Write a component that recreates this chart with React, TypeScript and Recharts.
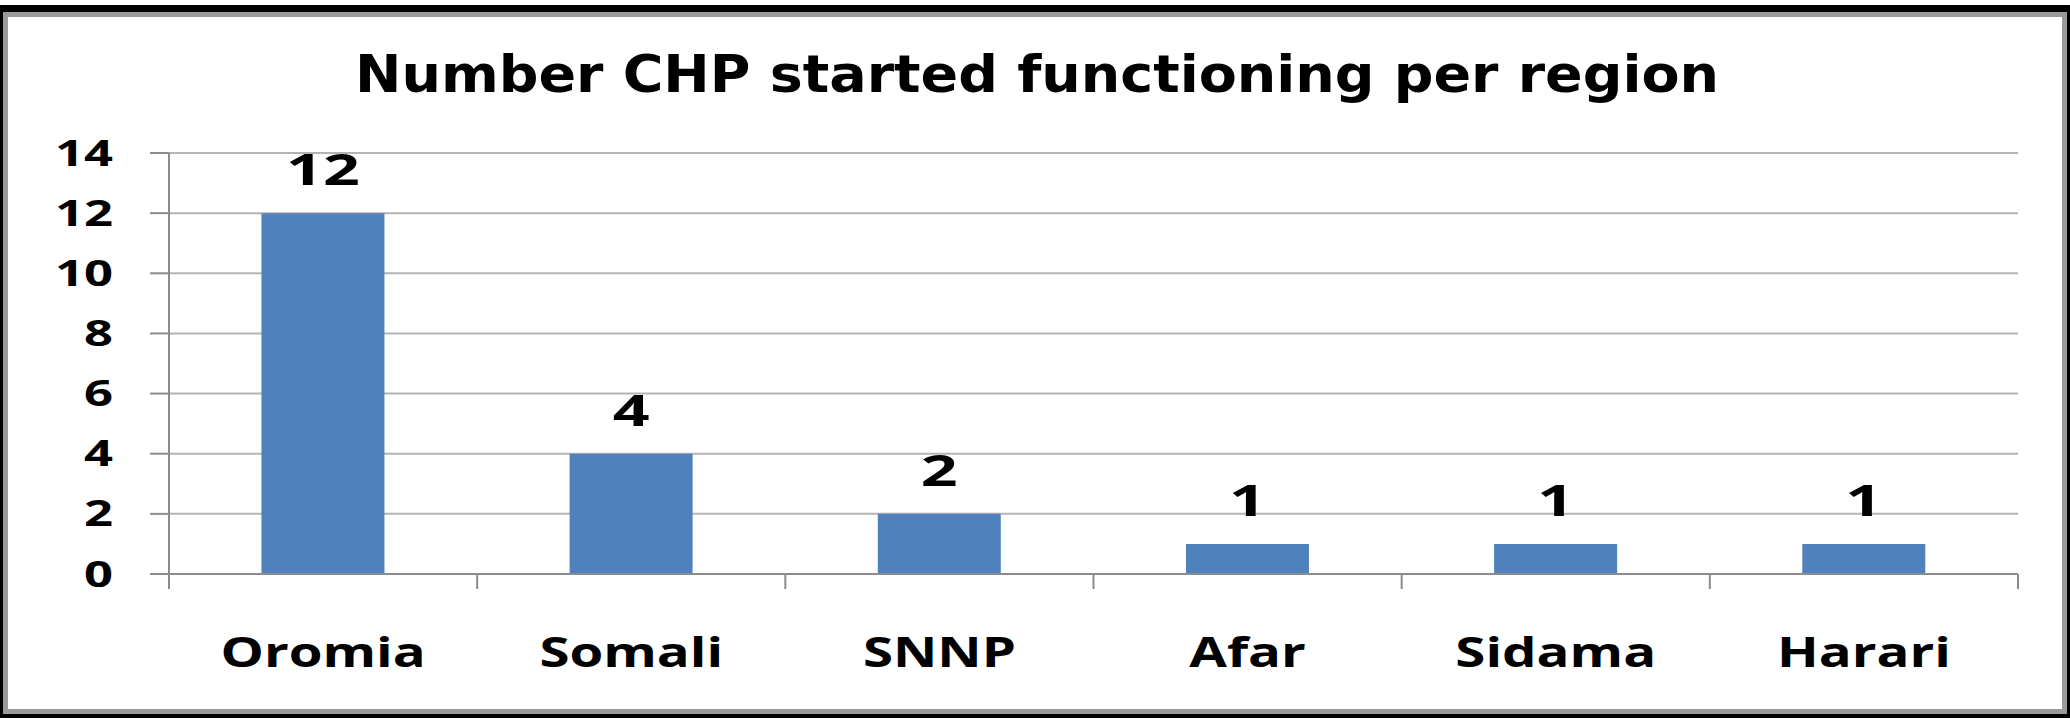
import React from 'react';
import { Bar, BarChart, CartesianGrid, LabelList, XAxis, YAxis } from 'recharts';

const regions = ['Oromia', 'Somali', 'SNNP', 'Afar', 'Sidama', 'Harari'];
const chpCounts = [12, 4, 2, 1, 1, 1];
const yTicks = [0, 2, 4, 6, 8, 10, 12, 14];
const chartTitle = 'Number CHP started functioning per region';

const data = regions.map((region, i) => ({ region, count: chpCounts[i] }));

const FONT = '"Open Sans", Calibri, sans-serif';
const AXIS_GREY = '#8c8c8c';

const YTick = (props: any) => {
  const { x, y, payload } = props;
  return (
    <text
      transform={`translate(${x},${y}) scale(1.45,1)`}
      textAnchor="end"
      dy="0.36em"
      fontFamily={FONT}
      fontWeight={700}
      fontSize={35}
      fill="#000"
    >
      {payload.value}
    </text>
  );
};

// category label plus Excel-style tick marks on the category boundaries
const XTick = (props: any) => {
  const { x, y, payload, index, visibleTicksCount } = props;
  const half = payload.offset || 154;
  const isLast = index === visibleTicksCount - 1;
  return (
    <g>
      <line x1={x - half} x2={x - half} y1={y} y2={y + 15} stroke={AXIS_GREY} strokeWidth={2} />
      {isLast && <line x1={x + half} x2={x + half} y1={y} y2={y + 15} stroke={AXIS_GREY} strokeWidth={2} />}
      <text
        transform={`translate(${x},${y + 93}) scale(1.3,1)`}
        textAnchor="middle"
        fontFamily={FONT}
        fontWeight={700}
        fontSize={42}
        fill="#000"
      >
        {payload.value}
      </text>
    </g>
  );
};

const ValueLabel = (props: any) => {
  const { x, y, width, value } = props;
  return (
    <text
      transform={`translate(${x + width / 2},${y - 28}) scale(1.5,1)`}
      textAnchor="middle"
      fontFamily={FONT}
      fontWeight={700}
      fontSize={43}
      fill="#000"
    >
      {value}
    </text>
  );
};

export default function App() {
  return (
    <div style={{ position: 'fixed', top: 0, left: 0, width: 2070, height: 718, background: '#fff' }}>
      <div style={{ position: 'absolute', top: 5, left: 0, width: 2070, height: 713, background: '#000' }} />
      <div
        style={{
          position: 'absolute',
          top: 12,
          left: 3,
          width: 2064,
          height: 702,
          boxSizing: 'border-box',
          border: '5px solid #9a9a9a',
          background: '#fff',
        }}
      />
      <svg style={{ position: 'absolute', top: 0, left: 0 }} width={2070} height={718}>
        <text
          x={355}
          y={92}
          textLength={1364}
          lengthAdjust="spacingAndGlyphs"
          fontFamily='"DejaVu Sans", Verdana, sans-serif'
          fontWeight={700}
          fontSize={51}
          fill="#000"
        >
          {chartTitle}
        </text>
      </svg>
      <div style={{ position: 'absolute', top: 0, left: 0 }}>
        <BarChart
          width={2070}
          height={718}
          data={data}
          margin={{ top: 153, right: 52, bottom: 44, left: 69 }}
          barCategoryGap="30%"
        >
          <CartesianGrid vertical={false} stroke="#b4b4b4" strokeWidth={2} />
          <XAxis
            dataKey="region"
            height={100}
            tickLine={false}
            tickSize={0}
            tickMargin={0}
            axisLine={{ stroke: AXIS_GREY, strokeWidth: 2 }}
            tick={<XTick />}
            interval={0}
          />
          <YAxis
            domain={[0, 14]}
            ticks={yTicks}
            width={100}
            tickSize={19}
            tickMargin={37}
            tickLine={{ stroke: AXIS_GREY, strokeWidth: 2 }}
            axisLine={{ stroke: AXIS_GREY, strokeWidth: 2 }}
            tick={<YTick />}
            interval={0}
          />
          <Bar dataKey="count" fill="#4f81bd" isAnimationActive={false}>
            <LabelList dataKey="count" content={<ValueLabel />} />
          </Bar>
        </BarChart>
      </div>
    </div>
  );
}
